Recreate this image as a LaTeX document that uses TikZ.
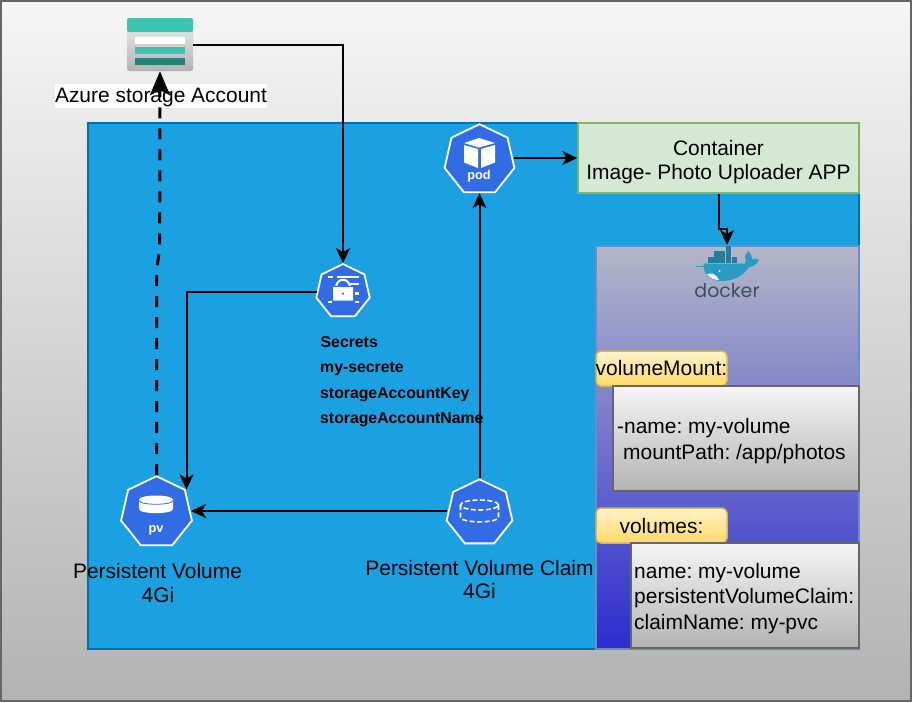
\documentclass[tikz,border=0pt]{standalone}
\usepackage{fontspec}
\setmainfont{Liberation Sans}
\newfontfamily\dockerfont{Poppins}
\usetikzlibrary{shapes.geometric,arrows.meta}
\definecolor{kube}{HTML}{326CE5}
\definecolor{teal1}{HTML}{3CC4B0}
\definecolor{teal2}{HTML}{258277}
\definecolor{whale}{HTML}{2A9CC4}
\definecolor{whalebox}{HTML}{1F7F9F}
\tikzset{
  lbl/.style={inner sep=0pt,font=\fontsize{20.95}{25}\selectfont,text height=15pt,text depth=4pt},
  lblleft/.style={lbl,anchor=west},
  bold16/.style={inner sep=0pt,anchor=west,font=\fontsize{15.8}{19}\selectfont\bfseries,text height=12pt,text depth=3pt},
  heptagon/.style={regular polygon,regular polygon sides=7,minimum size=#1,inner sep=0pt,draw=white,fill=kube,line width=1.8pt},
  conn/.style={line width=2pt,-{Stealth[length=15pt,width=14pt,inset=4pt]}},
  yellowbox/.style={draw={rgb,255:red,214;green,182;blue,86},line width=1.5pt,rounded corners=5pt,top color={rgb,255:red,255;green,242;blue,204},bottom color={rgb,255:red,255;green,217;blue,102}},
  greybox/.style={draw={rgb,255:red,102;green,102;blue,102},line width=1.7pt,top color={rgb,255:red,245;green,245;blue,245},bottom color={rgb,255:red,179;green,179;blue,179}},
  iconw/.style={fill=white,draw=none}
}
\begin{document}
\frenchspacing
\begin{tikzpicture}[x=1pt,y=-1pt]
\useasboundingbox (0,0) rectangle (912,702);
% background
\path[greybox] (1,1) rectangle (911,701);
% blue panel
\fill[fill={rgb,255:red,27;green,161;blue,226},draw={rgb,255:red,0;green,110;blue,175},line width=1.5pt] (88,123) rectangle (859,649);
% green container
\node[draw={rgb,255:red,130;green,179;blue,102},fill={rgb,255:red,213;green,232;blue,212},line width=1.5pt,minimum width=281pt,minimum height=70pt,inner sep=0pt] (container) at (718.5,158) {};
\node[lbl] (containerA) at (718.5,150) {Container};
\node[lbl] (containerB) at (718.5,174) {Image- Photo Uploader APP};
% docker panel
\shade[top color={rgb,255:red,180;green,183;blue,200},bottom color={rgb,255:red,44;green,44;blue,208}] (596,246) rectangle (859,649);
\draw[draw={rgb,255:red,108;green,142;blue,191},line width=1.3pt] (596,246) rectangle (859,649);
% docker logo
\coordinate (dockertip) at (727,245);
\foreach \xa/\ya in {725.7/246,714/251,719.9/251,725.7/251,708.2/257,714/257,719.9/257,725.7/257,731.6/257}
  \fill[whalebox] (\xa,\ya) rectangle +(5.5,5.6);
\fill[whale] (703.5,263.5) -- (745,263.5) .. controls (746,262) and (746,258) .. (745,256)
  .. controls (747,253) and (748,252) .. (748,251) .. controls (751,253) and (752,257) .. (752,259)
  .. controls (755,258) and (758,259) .. (759,260) .. controls (757,265) and (752,267) .. (749,267)
  .. controls (745,274) and (735,281) .. (722,281) .. controls (709,281) and (703,273) .. (703.5,263.5) -- cycle;
\draw[whale,line width=.8pt] (696,266) -- (704,266);
\fill[white] (707,274) .. controls (712,273) and (716,274) .. (719,280) .. controls (714,280) and (710,278) .. (707,274) -- cycle;
\fill[white] (719.5,271) circle (1.2pt);
\node[inner sep=0pt,text={rgb,255:red,61;green,80;blue,90},font=\fontsize{19}{23}\dockerfont] (dockertext) at (727,291) {docker};
% storage icon
\node[minimum width=66pt,minimum height=53pt,inner sep=0pt,rounded corners=2pt,top color={rgb,255:red,240;green,240;blue,240},bottom color={rgb,255:red,178;green,178;blue,178},draw=none] (storage) at (160,44.5) {};
\fill[teal1,rounded corners=1.5pt] (127,18) rectangle (193,32);
\fill[white] (135,37) rectangle (185,44);
\fill[teal1] (135,47) rectangle (185,54);
\fill[teal2] (135,58) rectangle (185,65);
% storage label
\node[fill=white,minimum width=212pt,minimum height=24pt,inner sep=0pt] (storagebg) at (161,95.5) {};
% pod
\node[heptagon=71.6pt] (pod) at (479.5,160) {};
\fill[iconw] (479,138) -- (495,143) -- (479,147.5) -- (464,143) -- cycle;
\fill[iconw] (464,145) -- (478,149) -- (478,168) -- (464,162.5) -- cycle;
\fill[iconw] (495,145) -- (481,149) -- (481,168) -- (495,162.5) -- cycle;
\node[text=white,inner sep=0pt,font=\fontsize{12.8}{16}\selectfont\bfseries] (podtext) at (479,176) {pod};
% secret
\node[heptagon=54.8pt] (secret) at (343,291.5) {};
\fill[iconw] (327.5,275.5) rectangle (333,277.5);
\fill[iconw] (337,275.5) rectangle (359,277.5);
\fill[iconw] (350,283) rectangle (359,285);
\fill[iconw] (354.5,292) rectangle (359,294.5);
\fill[iconw] (327.5,300.5) rectangle (333,302.5);
\fill[iconw] (337,300.5) rectangle (359,302.5);
\draw[white,line width=2pt] (336,288) .. controls (336,277) and (350,277) .. (350,288);
\fill[kube] (331.5,285.5) rectangle (354.5,303);
\fill[iconw,even odd rule] (333,287) rectangle (353,300.5) (343,293.5) circle (1.5pt);
% pv
\node[heptagon=72.6pt] (pv) at (156.5,512.5) {};
\fill[iconw] (139,499.5) -- (139,509) .. controls (139,514.5) and (173,514.5) .. (173,509) -- (173,499.5) -- cycle;
\fill[iconw] (156,499.5) ellipse[x radius=17pt,y radius=4pt];
\draw[kube,line width=.8pt] (139,500.5) .. controls (139,505.5) and (173,505.5) .. (173,500.5);
\node[text=white,inner sep=0pt,font=\fontsize{12.8}{16}\selectfont\bfseries] (pvtext) at (156,530) {pv};
% pvc
\node[heptagon=67.4pt] (pvc) at (479.5,513) {};
\draw[white,line width=1.6pt,dash pattern=on 5pt off 2.5pt] (479.5,505) ellipse[x radius=19pt,y radius=5pt];
\draw[white,line width=1.6pt,dash pattern=on 5pt off 2.5pt] (460.5,505) -- (460.5,517) .. controls (460.5,523.5) and (498.5,523.5) .. (498.5,517) -- (498.5,505);
% persistent labels
\node[lbl] (pvA) at (157.5,573) {Persistent Volume};
\node[lbl] (pvB) at (158,597) {4Gi};
\node[lbl] (pvcA) at (479.5,570) {Persistent Volume Claim};
\node[lbl] (pvcB) at (479.5,593) {4Gi};
% secrets text
\node[bold16] (s1) at (320.5,343) {Secrets};
\node[bold16] (s2) at (320,368) {my-secrete};
\node[bold16] (s3) at (320,394) {storageAccountKey};
\node[bold16] (s4) at (320,419) {storageAccountName};
% yellow and grey boxes
\node[yellowbox,minimum width=131pt,minimum height=35pt,inner sep=0pt] (vmhead) at (661.5,368.5) {};
\node[lbl] (vmheadt) at (661.5,370) {volumeMount:};
\node[greybox,minimum width=246pt,minimum height=105pt,inner sep=0pt] (vmbox) at (736,438.5) {};
\node[lblleft] (vmA) at (617,428) {-name: my-volume};
\node[lblleft] (vmB) at (623,454) {mountPath: /app/photos};
\node[yellowbox,minimum width=131pt,minimum height=35pt,inner sep=0pt] (vhead) at (661.5,525.5) {};
\node[lbl] (vheadt) at (661.5,528) {volumes:};
\node[greybox,minimum width=228pt,minimum height=105pt,inner sep=0pt] (vbox) at (745,595.5) {};
\node[lblleft] (vA) at (634,573) {name: my-volume};
\node[lblleft] (vB) at (634,598) {persistentVolumeClaim:};
\node[lblleft] (vC) at (634,624) {claimName: my-pvc};
% connectors
\draw[conn] (storage.east) -- (storage.east -| secret.north) -- (secret.north);
\draw[conn] (secret.west) -- ([xshift=30pt]secret.west -| pv.center) -- ([xshift=30pt,yshift=23pt]pv.center);
\draw[conn] ([yshift=2pt]pvc.west) -- ([yshift=2pt]pvc.west -| pv.east);
\draw[conn] (pvc.north) -- (pod.south);
\draw[conn] (pod.east |- container.west) -- (container.west);
\draw[conn] (container.south) -- ++(0,35) -| (dockertip);
\draw[line width=3pt,dash pattern=on 11pt off 10pt,-{Stealth[length=24pt,width=20pt,inset=5pt]}] (pv.north) -- ++(0,-196) .. controls ++(0,-20) and (159.7,260) .. (159.7,240) -- (storage.south);
% storage text on top
\node[lbl] (storagelabel) at (161,97) {Azure storage Account};
\end{tikzpicture}
\end{document}
